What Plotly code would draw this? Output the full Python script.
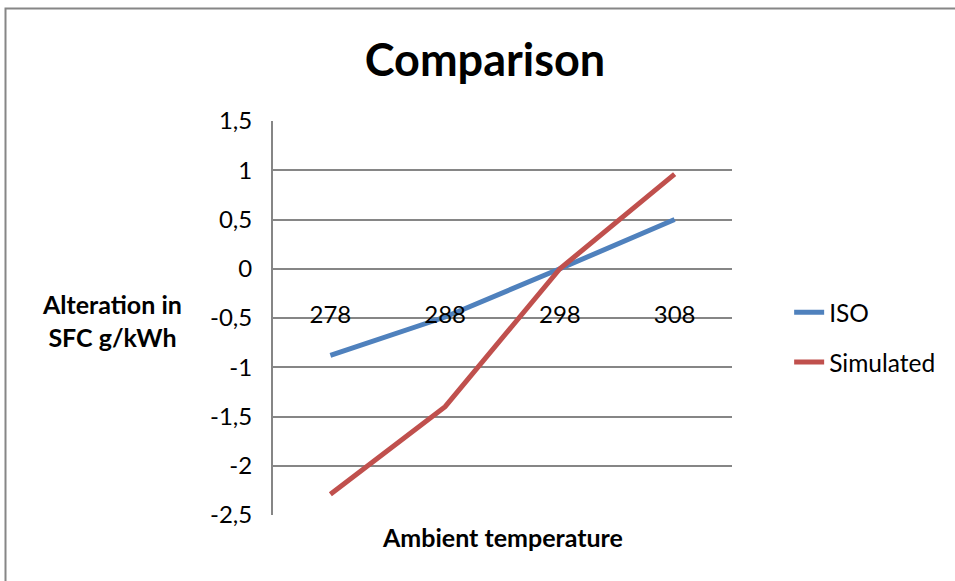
import plotly.graph_objects as go

# Ambient temperature categories (K) and SFC alteration (g/kWh)
temperatures = ["278", "288", "298", "308"]
iso_values = [-0.88, -0.49, 0.0, 0.5]
simulated_values = [-2.29, -1.40, 0.0, 0.96]

y_tick_values = [-2.5, -2.0, -1.5, -1.0, -0.5, 0.0, 0.5, 1.0, 1.5]
y_tick_labels = [("%g" % v).replace(".", ",") for v in y_tick_values]

FONT = "Lato"
GRID = "#868686"

W, H = 955, 581
ML, MR, MT, MB = 273, 223, 121, 66

y_min, y_max = y_tick_values[0], y_tick_values[-1]

fig = go.Figure()
fig.add_trace(go.Scatter(
    x=temperatures, y=iso_values, mode="lines", name="ISO",
    line=dict(color="#4F81BD", width=5), legendgroup="iso",
))
fig.add_trace(go.Scatter(
    x=temperatures, y=simulated_values, mode="lines", name="Simulated",
    line=dict(color="#C0504D", width=5), legendgroup="sim",
))

# category axis crosses the value axis at zero
zero_frac = (0 - y_min) / (y_max - y_min)

fig.update_layout(
    width=W, height=H,
    margin=dict(l=ML, r=MR, t=MT, b=MB, pad=0),
    paper_bgcolor="white", plot_bgcolor="white",
    font=dict(family=FONT, color="black", size=24),
    title=dict(text="<b>Comparison</b>", x=485 / W, xanchor="center",
               y=1 - 60 / H, yanchor="middle",
               font=dict(family=FONT, size=45, color="black")),
    xaxis=dict(type="category", range=[-0.5, 3.5], showgrid=False,
               showline=False, zeroline=False, ticks="",
               anchor="free", position=zero_frac,
               ticklabelstandoff=29, tickfont=dict(size=24)),
    yaxis=dict(range=[y_min, y_max], tickvals=y_tick_values,
               ticktext=y_tick_labels, showgrid=True, gridcolor=GRID,
               gridwidth=1.8, zeroline=False, showline=True,
               linecolor=GRID, linewidth=2, ticks="",
               ticklabelstandoff=14, tickfont=dict(size=24)),
    legend=dict(x=1.1245, xanchor="left", y=0.451, yanchor="middle",
                font=dict(size=24.5), tracegroupgap=15,
                bgcolor="rgba(0,0,0,0)"),
    separators=", ",
    showlegend=True,
)

fig.add_annotation(text="<b>Ambient temperature</b>", xref="paper",
                   yref="paper", x=0.5, y=-22 / (H - MT - MB),
                   xanchor="center", yanchor="middle", showarrow=False,
                   font=dict(size=25))
fig.add_annotation(text="<b>Alteration in<br>SFC g/kWh</b>", xref="paper",
                   yref="paper", x=(112 - ML) / (W - ML - MR),
                   y=(H - MB - 320) / (H - MT - MB),
                   xanchor="center", yanchor="middle", showarrow=False,
                   font=dict(size=25), align="center")

# chart frame
pw, ph = W - ML - MR, H - MT - MB
fig.add_shape(type="rect", xref="paper", yref="paper",
              x0=(5.5 - ML) / pw, x1=(W + 20 - ML) / pw,
              y0=-(MB + 20) / ph, y1=(H - MB - 8.5) / ph,
              line=dict(color="#868686", width=2), layer="below")

fig.write_html("out.html")
